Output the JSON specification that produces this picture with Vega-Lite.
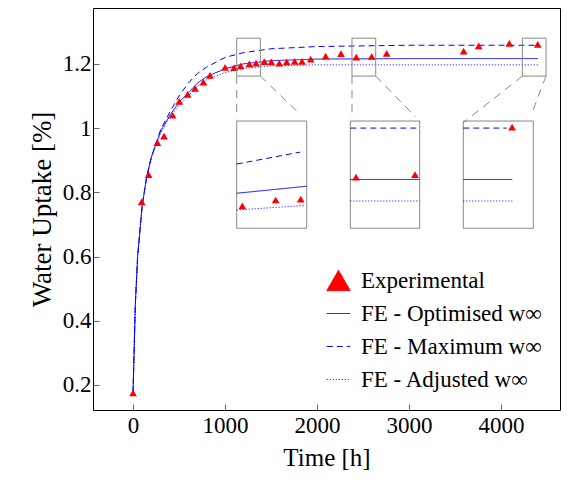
{
  "$schema": "https://vega.github.io/schema/vega-lite/v6.json",
  "width": 467,
  "height": 402,
  "autosize": "none",
  "padding": {"left": 93, "top": 8, "right": 13, "bottom": 77},
  "datasets": {
    "curves": [
      {"t": 0, "w": 0.175, "series": "FE - Optimised w∞", "seg": "o"},
      {"t": 25, "w": 0.45, "series": "FE - Optimised w∞", "seg": "o"},
      {"t": 50, "w": 0.6, "series": "FE - Optimised w∞", "seg": "o"},
      {"t": 100, "w": 0.76, "series": "FE - Optimised w∞", "seg": "o"},
      {"t": 150, "w": 0.85, "series": "FE - Optimised w∞", "seg": "o"},
      {"t": 200, "w": 0.91, "series": "FE - Optimised w∞", "seg": "o"},
      {"t": 300, "w": 0.99, "series": "FE - Optimised w∞", "seg": "o"},
      {"t": 400, "w": 1.04, "series": "FE - Optimised w∞", "seg": "o"},
      {"t": 500, "w": 1.08, "series": "FE - Optimised w∞", "seg": "o"},
      {"t": 600, "w": 1.11, "series": "FE - Optimised w∞", "seg": "o"},
      {"t": 700, "w": 1.14, "series": "FE - Optimised w∞", "seg": "o"},
      {"t": 800, "w": 1.16, "series": "FE - Optimised w∞", "seg": "o"},
      {"t": 1000, "w": 1.185, "series": "FE - Optimised w∞", "seg": "o"},
      {"t": 1200, "w": 1.2, "series": "FE - Optimised w∞", "seg": "o"},
      {"t": 1500, "w": 1.21, "series": "FE - Optimised w∞", "seg": "o"},
      {"t": 2000, "w": 1.215, "series": "FE - Optimised w∞", "seg": "o"},
      {"t": 3000, "w": 1.2165, "series": "FE - Optimised w∞", "seg": "o"},
      {"t": 4400, "w": 1.2165, "series": "FE - Optimised w∞", "seg": "o"},
      {"t": 0, "w": 0.175, "series": "FE - Maximum w∞", "seg": "m"},
      {"t": 25, "w": 0.45, "series": "FE - Maximum w∞", "seg": "m"},
      {"t": 50, "w": 0.6, "series": "FE - Maximum w∞", "seg": "m"},
      {"t": 100, "w": 0.76, "series": "FE - Maximum w∞", "seg": "m"},
      {"t": 150, "w": 0.85, "series": "FE - Maximum w∞", "seg": "m"},
      {"t": 200, "w": 0.91, "series": "FE - Maximum w∞", "seg": "m"},
      {"t": 300, "w": 0.995, "series": "FE - Maximum w∞", "seg": "m"},
      {"t": 400, "w": 1.05, "series": "FE - Maximum w∞", "seg": "m"},
      {"t": 500, "w": 1.1, "series": "FE - Maximum w∞", "seg": "m"},
      {"t": 600, "w": 1.14, "series": "FE - Maximum w∞", "seg": "m"},
      {"t": 700, "w": 1.17, "series": "FE - Maximum w∞", "seg": "m"},
      {"t": 800, "w": 1.19, "series": "FE - Maximum w∞", "seg": "m"},
      {"t": 1000, "w": 1.22, "series": "FE - Maximum w∞", "seg": "m"},
      {"t": 1200, "w": 1.235, "series": "FE - Maximum w∞", "seg": "m"},
      {"t": 1500, "w": 1.247, "series": "FE - Maximum w∞", "seg": "m"},
      {"t": 2000, "w": 1.254, "series": "FE - Maximum w∞", "seg": "m"},
      {"t": 3000, "w": 1.258, "series": "FE - Maximum w∞", "seg": "m"},
      {"t": 4400, "w": 1.258, "series": "FE - Maximum w∞", "seg": "m"},
      {"t": 0, "w": 0.175, "series": "FE - Adjusted w∞", "seg": "a"},
      {"t": 25, "w": 0.45, "series": "FE - Adjusted w∞", "seg": "a"},
      {"t": 50, "w": 0.6, "series": "FE - Adjusted w∞", "seg": "a"},
      {"t": 100, "w": 0.76, "series": "FE - Adjusted w∞", "seg": "a"},
      {"t": 150, "w": 0.85, "series": "FE - Adjusted w∞", "seg": "a"},
      {"t": 200, "w": 0.91, "series": "FE - Adjusted w∞", "seg": "a"},
      {"t": 300, "w": 0.985, "series": "FE - Adjusted w∞", "seg": "a"},
      {"t": 400, "w": 1.035, "series": "FE - Adjusted w∞", "seg": "a"},
      {"t": 500, "w": 1.07, "series": "FE - Adjusted w∞", "seg": "a"},
      {"t": 600, "w": 1.1, "series": "FE - Adjusted w∞", "seg": "a"},
      {"t": 700, "w": 1.13, "series": "FE - Adjusted w∞", "seg": "a"},
      {"t": 800, "w": 1.15, "series": "FE - Adjusted w∞", "seg": "a"},
      {"t": 1000, "w": 1.173, "series": "FE - Adjusted w∞", "seg": "a"},
      {"t": 1200, "w": 1.186, "series": "FE - Adjusted w∞", "seg": "a"},
      {"t": 1500, "w": 1.194, "series": "FE - Adjusted w∞", "seg": "a"},
      {"t": 2000, "w": 1.197, "series": "FE - Adjusted w∞", "seg": "a"},
      {"t": 4400, "w": 1.197, "series": "FE - Adjusted w∞", "seg": "a"},
      {"t": 1127, "w": 0.888, "series": "FE - Maximum w∞", "seg": "i1m"},
      {"t": 1815, "w": 0.925, "series": "FE - Maximum w∞", "seg": "i1m"},
      {"t": 1127, "w": 0.797, "series": "FE - Optimised w∞", "seg": "i1o"},
      {"t": 1888, "w": 0.819, "series": "FE - Optimised w∞", "seg": "i1o"},
      {"t": 1127, "w": 0.745, "series": "FE - Adjusted w∞", "seg": "i1a"},
      {"t": 1870, "w": 0.759, "series": "FE - Adjusted w∞", "seg": "i1a"},
      {"t": 2362, "w": 1.0, "series": "FE - Maximum w∞", "seg": "i2m"},
      {"t": 3116, "w": 1.0, "series": "FE - Maximum w∞", "seg": "i2m"},
      {"t": 2362, "w": 0.84, "series": "FE - Optimised w∞", "seg": "i2o"},
      {"t": 3116, "w": 0.84, "series": "FE - Optimised w∞", "seg": "i2o"},
      {"t": 2362, "w": 0.773, "series": "FE - Adjusted w∞", "seg": "i2a"},
      {"t": 3116, "w": 0.773, "series": "FE - Adjusted w∞", "seg": "i2a"},
      {"t": 3590, "w": 1.0, "series": "FE - Maximum w∞", "seg": "i3m"},
      {"t": 4062, "w": 1.0, "series": "FE - Maximum w∞", "seg": "i3m"},
      {"t": 3590, "w": 0.84, "series": "FE - Optimised w∞", "seg": "i3o"},
      {"t": 4123, "w": 0.84, "series": "FE - Optimised w∞", "seg": "i3o"},
      {"t": 3590, "w": 0.773, "series": "FE - Adjusted w∞", "seg": "i3a"},
      {"t": 4123, "w": 0.773, "series": "FE - Adjusted w∞", "seg": "i3a"}
    ],
    "exp": [
      {"t": 0, "w": 0.175}, {"t": 94, "w": 0.77}, {"t": 170, "w": 0.855},
      {"t": 265, "w": 0.955}, {"t": 337, "w": 0.975}, {"t": 431, "w": 1.04},
      {"t": 503, "w": 1.083}, {"t": 594, "w": 1.105}, {"t": 674, "w": 1.124},
      {"t": 765, "w": 1.143}, {"t": 837, "w": 1.164}, {"t": 1000, "w": 1.189},
      {"t": 1098, "w": 1.188}, {"t": 1170, "w": 1.194}, {"t": 1264, "w": 1.2},
      {"t": 1337, "w": 1.202}, {"t": 1427, "w": 1.207}, {"t": 1503, "w": 1.206},
      {"t": 1590, "w": 1.202}, {"t": 1670, "w": 1.206}, {"t": 1757, "w": 1.208},
      {"t": 1837, "w": 1.208}, {"t": 1931, "w": 1.215}, {"t": 2094, "w": 1.224},
      {"t": 2261, "w": 1.232}, {"t": 2427, "w": 1.221}, {"t": 2594, "w": 1.223},
      {"t": 2757, "w": 1.233}, {"t": 3594, "w": 1.24}, {"t": 3757, "w": 1.256},
      {"t": 4090, "w": 1.264}, {"t": 4399, "w": 1.261},
      {"t": 1188, "w": 0.758}, {"t": 1551, "w": 0.776}, {"t": 1823, "w": 0.779},
      {"t": 2424, "w": 0.847}, {"t": 3065, "w": 0.855}, {"t": 4120, "w": 1.003}
    ],
    "boxes": [
      {"t1": 1127, "t2": 1384, "w1": 1.162, "w2": 1.28, "kind": "small"},
      {"t1": 2380, "t2": 2638, "w1": 1.162, "w2": 1.28, "kind": "small"},
      {"t1": 4232, "t2": 4489, "w1": 1.162, "w2": 1.28, "kind": "small"},
      {"t1": 1127, "t2": 1888, "w1": 0.688, "w2": 1.022, "kind": "inset"},
      {"t1": 2362, "t2": 3116, "w1": 0.688, "w2": 1.022, "kind": "inset"},
      {"t1": 3590, "t2": 4351, "w1": 0.688, "w2": 1.022, "kind": "inset"}
    ],
    "connectors": [
      {"t1": 1127, "w1": 1.162, "t2": 1127, "w2": 1.03},
      {"t1": 1384, "w1": 1.162, "t2": 1823, "w2": 1.041},
      {"t1": 2380, "w1": 1.162, "t2": 2380, "w2": 1.03},
      {"t1": 2638, "w1": 1.162, "t2": 3072, "w2": 1.035},
      {"t1": 4232, "w1": 1.162, "t2": 3590, "w2": 1.017},
      {"t1": 4489, "w1": 1.162, "t2": 4340, "w2": 1.05}
    ]
  },
  "layer": [
    {
      "data": {"name": "boxes"},
      "transform": [{"filter": "datum.kind == 'inset'"}],
      "mark": {"type": "rect", "fill": "white", "stroke": "#888", "strokeWidth": 1},
      "encoding": {
        "x": {"field": "t1", "type": "quantitative"},
        "x2": {"field": "t2"},
        "y": {"field": "w1", "type": "quantitative"},
        "y2": {"field": "w2"}
      }
    },
    {
      "data": {"name": "curves"},
      "mark": {"type": "line", "strokeWidth": 1, "clip": true},
      "encoding": {
        "x": {
          "field": "t", "type": "quantitative",
          "scale": {"domain": [-435, 4641], "nice": false},
          "axis": {"title": "Time [h]", "values": [0, 1000, 2000, 3000, 4000], "format": "d", "grid": false, "tickSize": -6, "tickColor": "#666", "labelPadding": 10, "labelFontSize": 23, "titleFontSize": 25, "titlePadding": 8}
        },
        "y": {
          "field": "w", "type": "quantitative",
          "scale": {"domain": [0.122, 1.374], "nice": false, "zero": false},
          "axis": {"title": "Water Uptake [%]", "values": [0.2, 0.4, 0.6, 0.8, 1, 1.2], "format": "~g", "grid": false, "tickSize": -6, "tickColor": "#666", "labelPadding": 8, "labelFontSize": 23, "titleFontSize": 27, "titlePadding": 6}
        },
        "detail": {"field": "seg"},
        "color": {"field": "series", "type": "nominal", "title": null,
          "scale": {"domain": ["Experimental", "FE - Optimised w∞", "FE - Maximum w∞", "FE - Adjusted w∞"], "range": ["red", "blue", "blue", "blue"]}},
        "strokeDash": {"field": "series", "type": "nominal", "title": null,
          "scale": {"domain": ["Experimental", "FE - Optimised w∞", "FE - Maximum w∞", "FE - Adjusted w∞"], "range": [[1, 0], [1, 0], [6, 4], [1, 2]]}}
      }
    },
    {
      "data": {"name": "exp"},
      "transform": [{"calculate": "'Experimental'", "as": "series"}],
      "mark": {"type": "point", "filled": true, "size": 60, "opacity": 1},
      "encoding": {
        "x": {"field": "t", "type": "quantitative"},
        "y": {"field": "w", "type": "quantitative"},
        "color": {"field": "series", "type": "nominal", "title": null},
        "shape": {"field": "series", "type": "nominal", "title": null,
          "scale": {"domain": ["Experimental", "FE - Optimised w∞", "FE - Maximum w∞", "FE - Adjusted w∞"], "range": ["triangle-up", "stroke", "stroke", "stroke"]}}
      }
    },
    {
      "data": {"name": "boxes"},
      "transform": [{"filter": "datum.kind == 'small'"}],
      "mark": {"type": "rect", "fill": null, "stroke": "#888", "strokeWidth": 1},
      "encoding": {
        "x": {"field": "t1", "type": "quantitative"},
        "x2": {"field": "t2"},
        "y": {"field": "w1", "type": "quantitative"},
        "y2": {"field": "w2"}
      }
    },
    {
      "data": {"name": "connectors"},
      "mark": {"type": "rule", "stroke": "#888", "strokeDash": [8, 6], "strokeWidth": 1},
      "encoding": {
        "x": {"field": "t1", "type": "quantitative"},
        "x2": {"field": "t2"},
        "y": {"field": "w1", "type": "quantitative"},
        "y2": {"field": "w2"}
      }
    }
  ],
  "config": {
    "font": "Liberation Serif",
    "view": {"stroke": "black", "strokeWidth": 1},
    "axis": {"labelFont": "Liberation Serif", "titleFont": "Liberation Serif", "titleFontWeight": "normal", "labelColor": "black", "titleColor": "black", "domain": false},
    "legend": {"orient": "bottom-right", "offset": 16, "labelFont": "Liberation Serif", "labelFontSize": 23, "labelLimit": 400, "labelColor": "black", "symbolSize": 550, "symbolStrokeWidth": 1, "rowPadding": 8, "padding": 2, "labelOffset": 10, "strokeColor": null}
  }
}
